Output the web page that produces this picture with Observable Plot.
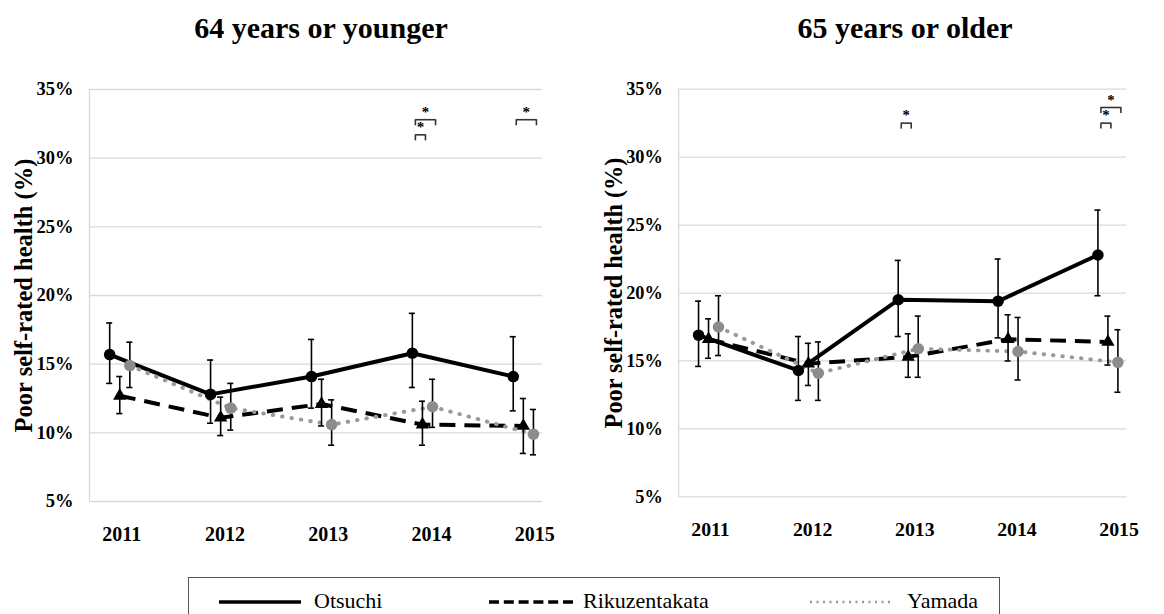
<!DOCTYPE html>
<html><head><meta charset="utf-8">
<script src="https://cdn.jsdelivr.net/npm/d3@7"></script>
<script src="https://cdn.jsdelivr.net/npm/@observablehq/plot@0.6"></script>
<style>
body{margin:0;background:#fff;}
#page{position:relative;width:1164px;height:614px;overflow:hidden;font-family:"Liberation Serif","Times New Roman",serif;background:#fff;}
.title{position:absolute;top:0;height:56px;line-height:56px;font-size:30px;font-weight:bold;transform:translateX(-50%);white-space:nowrap;color:#000;}
.panel{position:absolute;top:56px;}
#legend{position:absolute;left:188px;top:577px;width:812px;height:60px;border:1.5px solid #555;box-sizing:border-box;}
.lg{position:absolute;top:0;height:46px;line-height:46px;font-size:22px;color:#000;white-space:nowrap;}
.sw{position:absolute;top:21px;}
</style></head><body>
<div id="page">
  <div class="title" style="left:321px">64 years or younger</div>
  <div class="title" style="left:905px">65 years or older</div>
  <div class="panel" id="p1" style="left:0px"></div>
  <div class="panel" id="p2" style="left:590px"></div>
  <div id="legend">
    <svg class="sw" style="left:30px" width="82" height="6"><line x1="0" y1="3" x2="82" y2="3" stroke="#000" stroke-width="3.5"/></svg>
    <span class="lg" style="left:125px">Otsuchi</span>
    <svg class="sw" style="left:300px" width="84" height="6"><line x1="0" y1="3" x2="84" y2="3" stroke="#000" stroke-width="3.5" stroke-dasharray="10,4.8"/></svg>
    <span class="lg" style="left:394px">Rikuzentakata</span>
    <svg class="sw" style="left:621px" width="84" height="6"><line x1="0" y1="3" x2="84" y2="3" stroke="#999" stroke-width="2.5" stroke-dasharray="2,4.5"/></svg>
    <span class="lg" style="left:718px">Yamada</span>
  </div>
</div>
<script>
const years = [2011, 2012, 2013, 2014, 2015];
const seriesNames = ["Otsuchi", "Rikuzentakata", "Yamada"];
const yTicks = [5, 10, 15, 20, 25, 30, 35];

// 64 years or younger
const youngOtsuchi   = [15.7, 12.8, 14.1, 15.8, 14.1];
const youngOtsuchiLo = [13.6, 10.7, 11.8, 13.3, 11.6];
const youngOtsuchiHi = [18.0, 15.3, 16.8, 18.7, 17.0];
const youngRiku      = [12.7, 11.1, 12.1, 10.6, 10.5];
const youngRikuLo    = [11.4, 9.8, 10.5, 9.1, 8.5];
const youngRikuHi    = [14.1, 12.6, 13.9, 12.3, 12.5];
const youngYamada    = [14.9, 11.8, 10.6, 11.9, 9.9];
const youngYamadaLo  = [13.3, 10.2, 9.1, 10.4, 8.4];
const youngYamadaHi  = [16.6, 13.6, 12.4, 13.9, 11.7];

// 65 years or older
const oldOtsuchi   = [16.9, 14.3, 19.5, 19.4, 22.8];
const oldOtsuchiLo = [14.6, 12.1, 16.8, 16.7, 19.8];
const oldOtsuchiHi = [19.4, 16.8, 22.4, 22.5, 26.1];
const oldRiku      = [16.6, 14.8, 15.3, 16.6, 16.4];
const oldRikuLo    = [15.2, 13.2, 13.8, 15.0, 14.7];
const oldRikuHi    = [18.1, 16.3, 17.0, 18.4, 18.3];
const oldYamada    = [17.5, 14.1, 15.9, 15.7, 14.9];
const oldYamadaLo  = [15.4, 12.1, 13.8, 13.6, 12.7];
const oldYamadaHi  = [19.8, 16.4, 18.3, 18.2, 17.3];

// significance brackets: year, compared series, bracket level (%)
const youngSig = [
  {year: 2014, a: "Otsuchi", b: "Yamada", level: 32.8},
  {year: 2014, a: "Otsuchi", b: "Rikuzentakata", level: 31.7},
  {year: 2015, a: "Otsuchi", b: "Yamada", level: 32.8}
];
const oldSig = [
  {year: 2013, a: "Otsuchi", b: "Rikuzentakata", level: 32.5},
  {year: 2015, a: "Otsuchi", b: "Yamada", level: 33.65},
  {year: 2015, a: "Otsuchi", b: "Rikuzentakata", level: 32.5}
];

const offset = {Otsuchi: 0, Rikuzentakata: 0.1, Yamada: 0.2};
const style = {
  Otsuchi: {stroke: "#000", dash: null, fill: "#000", symbol: "circle", r: 5.8},
  Rikuzentakata: {stroke: "#000", dash: "16,9", fill: "#000", symbol: "triangle", r: 5},
  Yamada: {stroke: "#9a9a9a", dash: "0.5,9", fill: "#8c8c8c", symbol: "circle", r: 5.8}
};

function buildRows(vals) {
  const rows = [];
  seriesNames.forEach((s, k) => {
    const [v, lo, hi] = vals[k];
    years.forEach((y, i) => rows.push({series: s, year: y, x: y + offset[s], v: v[i], lo: lo[i], hi: hi[i]}));
  });
  return rows;
}

function panel(vals, sigs) {
  const rows = buildRows(vals);
  const sig = sigs.map(d => ({x1: d.year + offset[d.a] + 0.03, x2: d.year + offset[d.b] + 0.03, top: d.level}));
  const marks = [
    Plot.ruleY(yTicks, {stroke: "#d9d9d9", strokeWidth: 1.3}),
    Plot.ruleX([2010.8], {y1: 5, y2: 35, stroke: "#d9d9d9", strokeWidth: 1.3}),
    Plot.axisY({ticks: yTicks, tickSize: 0, tickPadding: 16, tickFormat: d => d + "%", fontSize: 18.5, fontWeight: "bold", fill: "#000", label: null}),
    Plot.axisX({ticks: years.map((y, i) => y + 0.12 + 0.023 * i), tickSize: 0, tickPadding: 25, tickFormat: d => String(Math.floor(d)), fontSize: 20, fontWeight: "bold", fill: "#000", label: null}),
    Plot.text(["Poor self-rated health (%)"], {frameAnchor: "left", rotate: -90, dx: -65, fontSize: 24.5, fontWeight: "bold", lineAnchor: "middle", textAnchor: "middle", fill: "#000"})
  ];
  seriesNames.forEach(s => {
    const st = style[s];
    marks.push(Plot.line(rows.filter(d => d.series === s), {x: "x", y: "v", stroke: st.stroke, strokeWidth: 4, strokeDasharray: st.dash, strokeLinecap: s === "Yamada" ? "round" : "butt"}));
  });
  marks.push(
    Plot.ruleX(rows, {x: "x", y1: "lo", y2: "hi", stroke: "#000", strokeWidth: 1.6}),
    Plot.ruleY(rows, {y: "hi", x1: d => d.x - 0.03, x2: d => d.x + 0.03, stroke: "#000", strokeWidth: 1.6}),
    Plot.ruleY(rows, {y: "lo", x1: d => d.x - 0.03, x2: d => d.x + 0.03, stroke: "#000", strokeWidth: 1.6})
  );
  seriesNames.forEach(s => {
    const st = style[s];
    marks.push(Plot.dot(rows.filter(d => d.series === s), {x: "x", y: "v", symbol: st.symbol, r: st.r, fill: st.fill, stroke: "none"}));
  });
  marks.push(
    Plot.link(sig, {x1: "x1", x2: "x2", y1: "top", y2: "top", stroke: "#333", strokeWidth: 1.6}),
    Plot.ruleX(sig, {x: "x1", y1: "top", y2: d => d.top - 0.44, stroke: "#333", strokeWidth: 1.6}),
    Plot.ruleX(sig, {x: "x2", y1: "top", y2: d => d.top - 0.44, stroke: "#333", strokeWidth: 1.6}),
    Plot.text(sig, {x: d => (d.x1 + d.x2) / 2, y: "top", text: () => "*", fontSize: 15, fontWeight: "bold", dy: -3, lineAnchor: "bottom", fill: "#000"})
  );
  return Plot.plot({
    width: 580, height: 504,
    marginLeft: 89, marginRight: 38, marginTop: 33, marginBottom: 59,
    x: {domain: [2010.8, 2015.29], axis: null},
    y: {domain: [5, 35], axis: null},
    style: {fontFamily: "'Liberation Serif', 'Times New Roman', serif", background: "#fff", color: "#000"},
    marks
  });
}

document.getElementById("p1").append(panel([
  [youngOtsuchi, youngOtsuchiLo, youngOtsuchiHi],
  [youngRiku, youngRikuLo, youngRikuHi],
  [youngYamada, youngYamadaLo, youngYamadaHi]
], youngSig));
document.getElementById("p2").append(panel([
  [oldOtsuchi, oldOtsuchiLo, oldOtsuchiHi],
  [oldRiku, oldRikuLo, oldRikuHi],
  [oldYamada, oldYamadaLo, oldYamadaHi]
], oldSig));
</script>
</body></html>
